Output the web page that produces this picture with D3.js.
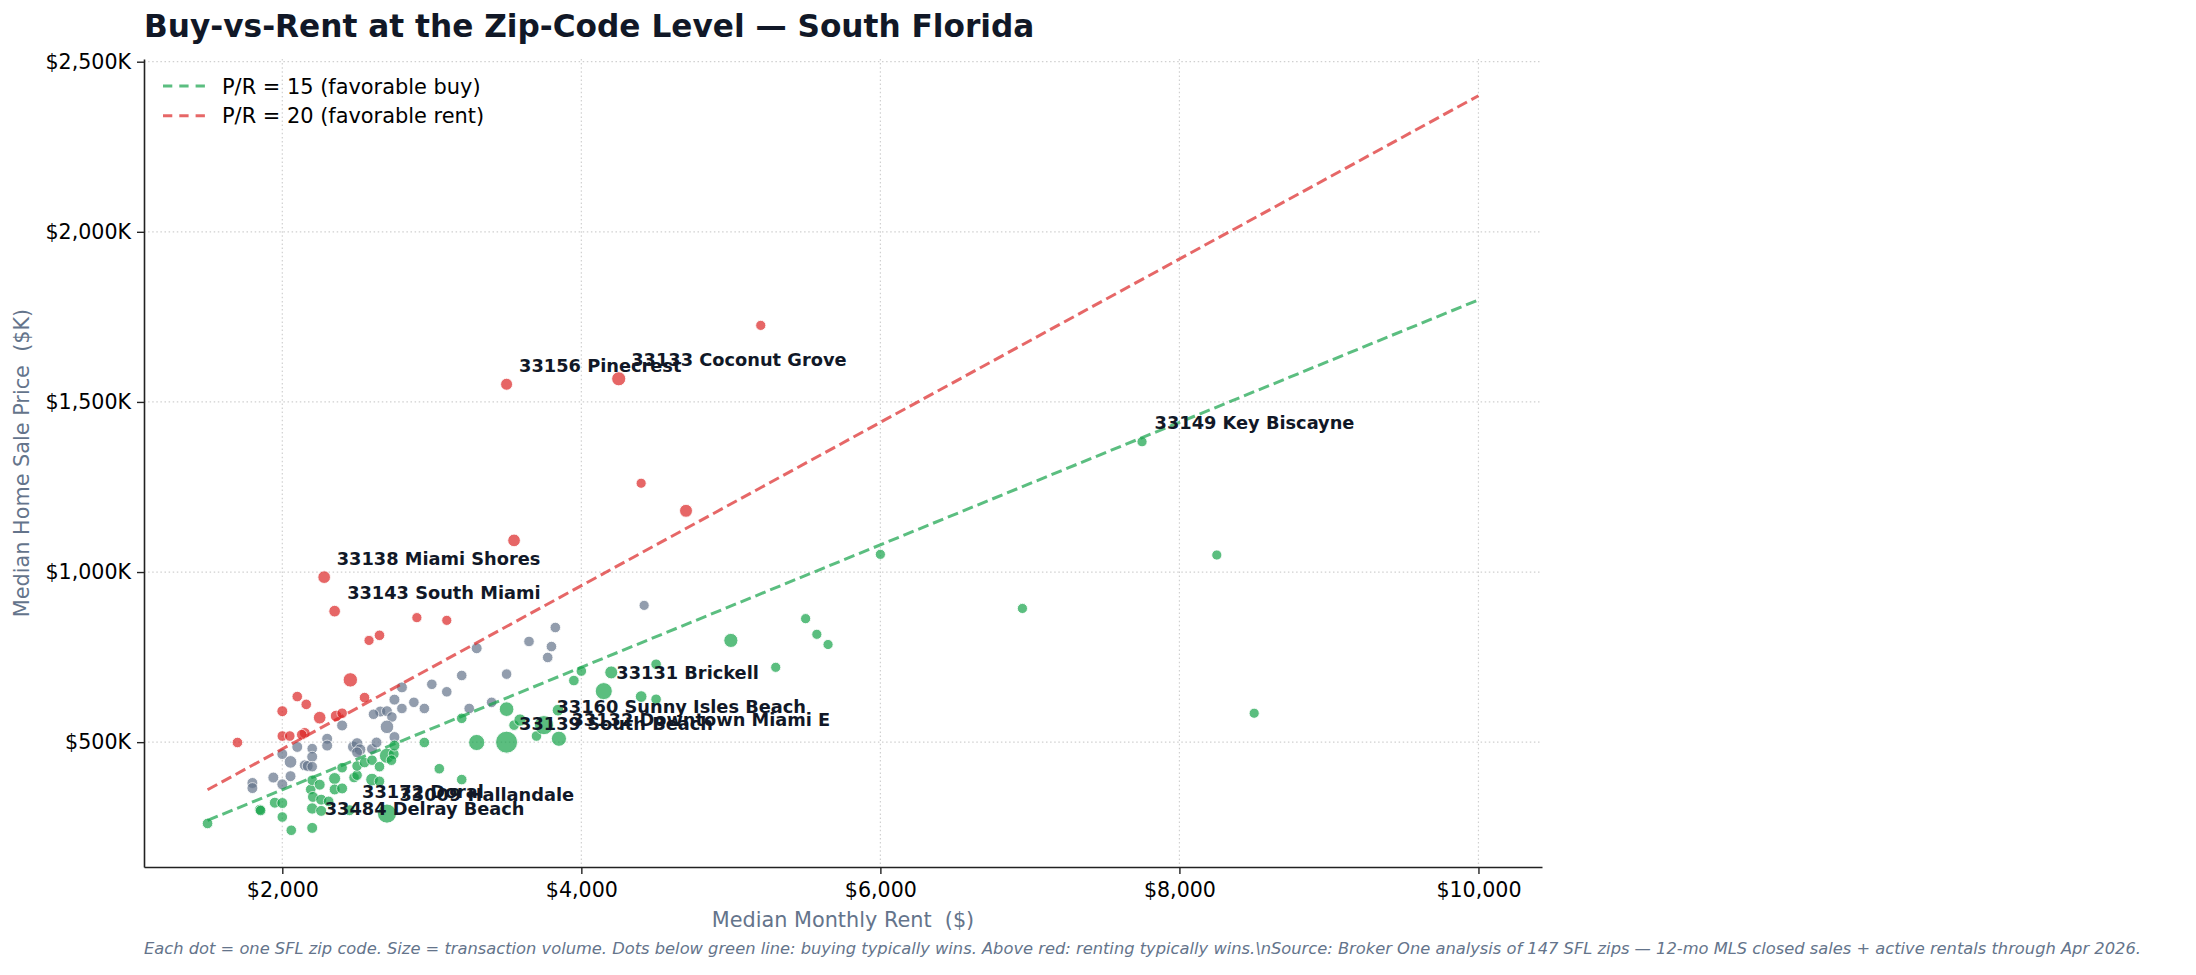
<!DOCTYPE html>
<html>
<head>
<meta charset="utf-8">
<script src="https://cdn.jsdelivr.net/npm/d3@7"></script>
<style>
  body { margin: 0; background: #fff; }
  text { font-family: "DejaVu Sans", sans-serif; }
</style>
</head>
<body>
<div id="container"></div>
<script>
// median monthly rent ($), median sale price ($K), transaction volume, label
const rent = [
  5200, 4250, 3500, 4400, 4700, 3550, 2280, 2350, 2900, 3100, 2580, 2650, 2455, 2100, 2160,
  2550, 2000, 2250, 2360, 2400, 2000, 2050, 2150, 2130, 1700,
  1800, 1800, 1940, 2000, 2000, 2055, 2100, 2055, 2150, 2170, 2200, 2200, 2200, 2300, 2300,
  2400, 2475, 2500, 2520, 2500, 2600, 2630, 2655, 2700, 2610, 2733, 2700, 2750, 2800, 2800,
  2750, 2880, 2950, 3000, 3100, 3200, 3250, 3300, 3400, 3500, 3650, 3826, 3800, 3775, 4420,
  1500, 1850, 1855, 1950, 2000, 2000, 2060, 2200, 2200, 2190, 2205, 2260, 2260, 2310, 2200,
  2250, 2350, 2350, 2400, 2400, 2480, 2500, 2450, 2500, 2550, 2600, 2600, 2650, 2650, 2700,
  2700, 2745, 2750, 2730, 2950, 3050, 3200, 3200, 3300, 3500, 3500, 3550, 3590, 3700, 3750,
  3850, 3844, 3950, 4000, 4150, 4200, 4500, 4400, 4500, 5000, 5300, 5500, 5575, 5650, 6000,
  6950, 7750, 8250, 8500
];
const price = [
  1725, 1568, 1552, 1261, 1180, 1093, 985, 885, 866, 858, 799, 814, 683, 634, 611,
  631, 591, 572, 577, 585, 518, 518, 527, 522, 499,
  380, 365, 396, 465, 376, 442, 486, 400, 432, 430, 481, 457, 428, 510, 490,
  549, 486, 496, 478, 470, 480, 499, 590, 591, 582, 574, 545, 625, 599, 661,
  515, 617, 599, 670, 648, 696, 599, 776, 617, 700, 796, 837, 781, 749, 902,
  261, 302, 299, 322, 321, 280, 241, 248, 305, 361, 339, 331, 298, 326, 388,
  375, 393, 361, 364, 425, 396, 403, 300, 430, 440, 447, 390, 385, 428, 460,
  290, 465, 490, 447, 499, 422, 390, 570, 499, 500, 597, 550, 565, 518, 550,
  510, 594, 681, 709, 650, 705, 729, 634, 626, 799, 720, 863, 817, 787, 1052,
  893, 1383, 1050, 585
];
const volume = [
  50, 110, 75, 50, 90, 85, 85, 70, 50, 50, 50, 55, 115, 55, 55,
  55, 60, 85, 70, 55, 55, 55, 60, 55, 55,
  60, 60, 60, 60, 60, 85, 60, 60, 60, 60, 55, 60, 55, 60, 60,
  60, 70, 70, 70, 60, 60, 60, 60, 60, 55, 55, 100, 60, 55, 60,
  60, 55, 55, 55, 55, 55, 55, 60, 55, 55, 55, 55, 55, 55, 50,
  55, 55, 55, 60, 60, 55, 55, 60, 65, 55, 60, 60, 60, 55, 55,
  60, 75, 60, 60, 55, 55, 55, 60, 55, 55, 55, 85, 55, 55, 130,
  220, 60, 60, 55, 55, 55, 55, 55, 150, 300, 120, 55, 80, 55, 220,
  130, 70, 55, 55, 170, 90, 55, 70, 55, 110, 50, 50, 50, 50, 50,
  50, 50, 50, 50
];
const label = rent.map(() => "");
const labeled = [
  [1, "33133 Coconut Grove"],
  [2, "33156 Pinecrest"],
  [6, "33138 Miami Shores"],
  [7, "33143 South Miami"],
  [77, "33484 Delray Beach"],
  [92, "33172 Doral"],
  [100, "33009 Hallandale"],
  [109, "33139 South Beach"],
  [114, "33160 Sunny Isles Beach"],
  [115, "33132 Downtown Miami E"],
  [119, "33131 Brickell"],
  [131, "33149 Key Biscayne"],
];
labeled.forEach(([i, t]) => (label[i] = t));

const xTicks = [2000, 4000, 6000, 8000, 10000];
const yTicks = [500, 1000, 1500, 2000, 2500];
const lineRent = [1500, 10000];
const ratioLines = [15, 20];
const ratioNames = ["P/R = 15 (favorable buy)", "P/R = 20 (favorable rent)"];

main();

function main() {
  const width = 2196;
  const height = 975;
  const margin = { top: 59, left: 144 };
  const innerWidth = 1398;
  const innerHeight = 808;

  const buyColor = "#16a34a";
  const rentColor = "#dc2626";
  const midColor = "#64748b";
  const ink = "#111827";
  const muted = "#64748b";

  const data = rent.map((r, i) => ({
    rent: r,
    price: price[i],
    volume: volume[i],
    label: label[i],
    ratio: (price[i] * 1000) / (r * 12),
  }));

  const svg = d3
    .select("#container")
    .append("svg")
    .attr("width", width)
    .attr("height", height)
    .style("background", "#fff");

  // domains like matplotlib: data extent + 5% padding
  const xs = data.map((d) => d.rent).concat(lineRent);
  const ys = data.map((d) => d.price).concat(
    ratioLines.flatMap((k) => lineRent.map((r) => (r * 12 * k) / 1000))
  );
  const pad = (ext) => {
    const r = ext[1] - ext[0];
    return [ext[0] - r * 0.05, ext[1] + r * 0.05];
  };
  const scaleX = d3.scaleLinear().domain(pad(d3.extent(xs))).range([0, innerWidth]);
  const scaleY = d3.scaleLinear().domain(pad(d3.extent(ys))).range([innerHeight, 0]);
  const scaleR = d3.scaleSqrt().domain([0, 300]).range([1, 11]);

  const g = svg
    .append("g")
    .attr("transform", `translate(${margin.left}, ${margin.top})`);

  // grid
  const grid = g.append("g").classed("grid", true);
  grid
    .selectAll("line.gx")
    .data(xTicks)
    .join("line")
    .attr("x1", (d) => scaleX(d))
    .attr("x2", (d) => scaleX(d))
    .attr("y1", 0)
    .attr("y2", innerHeight)
    .attr("stroke", "#d0d0d0")
    .attr("stroke-width", 1.2)
    .attr("stroke-dasharray", "1.5,2.6");
  grid
    .selectAll("line.gy")
    .data(yTicks)
    .join("line")
    .attr("x1", 0)
    .attr("x2", innerWidth)
    .attr("y1", (d) => scaleY(d))
    .attr("y2", (d) => scaleY(d))
    .attr("stroke", "#d0d0d0")
    .attr("stroke-width", 1.2)
    .attr("stroke-dasharray", "1.5,2.6");

  // points
  const colorOf = (d) =>
    d.ratio < 15 ? buyColor : d.ratio > 20 ? rentColor : midColor;
  g.append("g")
    .selectAll("circle")
    .data(data)
    .join("circle")
    .attr("cx", (d) => scaleX(d.rent))
    .attr("cy", (d) => scaleY(d.price))
    .attr("r", (d) => scaleR(d.volume))
    .attr("fill", colorOf)
    .attr("stroke", "#fff")
    .attr("stroke-width", 0.9)
    .attr("opacity", 0.7);

  // ratio lines
  const lineColors = [buyColor, rentColor];
  const lineGen = d3
    .line()
    .x((d) => scaleX(d[0]))
    .y((d) => scaleY(d[1]));
  ratioLines.forEach((k, i) => {
    g.append("path")
      .datum(lineRent.map((r) => [r, (r * 12 * k) / 1000]))
      .attr("d", lineGen)
      .attr("fill", "none")
      .attr("stroke", lineColors[i])
      .attr("stroke-opacity", 0.7)
      .attr("stroke-width", 3)
      .attr("stroke-dasharray", "11,5");
  });

  // labels
  g.append("g")
    .selectAll("text")
    .data(data.filter((d) => d.label))
    .join("text")
    .attr("x", (d) => scaleX(d.rent) + 12.5)
    .attr("y", (d) => scaleY(d.price) - 12.5)
    .attr("font-size", 17.8)
    .attr("font-weight", 700)
    .attr("fill", ink)
    .text((d) => d.label);

  // axes
  const axisX = g
    .append("g")
    .attr("transform", `translate(0, ${innerHeight})`)
    .call(
      d3
        .axisBottom(scaleX)
        .tickValues(xTicks)
        .tickSize(7)
        .tickSizeOuter(0)
        .tickFormat((d) => "$" + d3.format(",")(d))
    );
  const axisY = g
    .append("g")
    .call(
      d3
        .axisLeft(scaleY)
        .tickValues(yTicks)
        .tickSize(7)
        .tickSizeOuter(0)
        .tickPadding(6)
        .tickFormat((d) => "$" + d3.format(",")(d) + "K")
    );
  [axisX, axisY].forEach((ax) => {
    ax.select(".domain").attr("stroke", "#222").attr("stroke-width", 1.6);
    ax.selectAll(".tick line").attr("stroke", "#222").attr("stroke-width", 1.4);
    ax.selectAll(".tick text")
      .attr("fill", "#000")
      .attr("font-size", 20.6)
      .attr("font-family", "DejaVu Sans");
  });
  axisX.selectAll(".tick text").attr("y", 29.5).attr("dy", null);

  // axis titles
  g.append("text")
    .attr("x", innerWidth / 2)
    .attr("y", innerHeight + 60)
    .attr("text-anchor", "middle")
    .attr("font-size", 20.8)
    .attr("fill", muted)
    .style("white-space", "pre")
    .text("Median Monthly Rent  ($)");
  g.append("text")
    .attr("transform", `translate(${29 - margin.left}, ${innerHeight / 2}) rotate(-90)`)
    .attr("text-anchor", "middle")
    .attr("font-size", 20.8)
    .attr("fill", muted)
    .style("white-space", "pre")
    .text("Median Home Sale Price  ($K)");

  // legend
  const legend = svg.append("g").attr("transform", "translate(163, 86)");
  const rows = legend
    .selectAll("g")
    .data(ratioNames)
    .join("g")
    .attr("transform", (d, i) => `translate(0, ${i * 29.7})`);
  rows
    .append("line")
    .attr("x1", 0)
    .attr("x2", 42)
    .attr("stroke", (d, i) => lineColors[i])
    .attr("stroke-opacity", 0.7)
    .attr("stroke-width", 3)
    .attr("stroke-dasharray", "9.3,7");
  rows
    .append("text")
    .attr("x", 59)
    .attr("y", 7.5)
    .attr("font-size", 20.9)
    .attr("fill", "#000")
    .text((d) => d);

  // title + footnote
  svg
    .append("text")
    .attr("x", 144)
    .attr("y", 37)
    .attr("font-size", 31.2)
    .attr("font-weight", 700)
    .attr("fill", ink)
    .text("Buy-vs-Rent at the Zip-Code Level \u2014 South Florida");
  svg
    .append("text")
    .attr("x", 144)
    .attr("y", 954)
    .attr("font-size", 16.3)
    .attr("font-style", "italic")
    .attr("fill", muted)
    .text(
      "Each dot = one SFL zip code. Size = transaction volume. Dots below green line: buying typically wins. Above red: renting typically wins.\\nSource: Broker One analysis of 147 SFL zips \u2014 12-mo MLS closed sales + active rentals through Apr 2026."
    );
}
</script>
</body>
</html>
